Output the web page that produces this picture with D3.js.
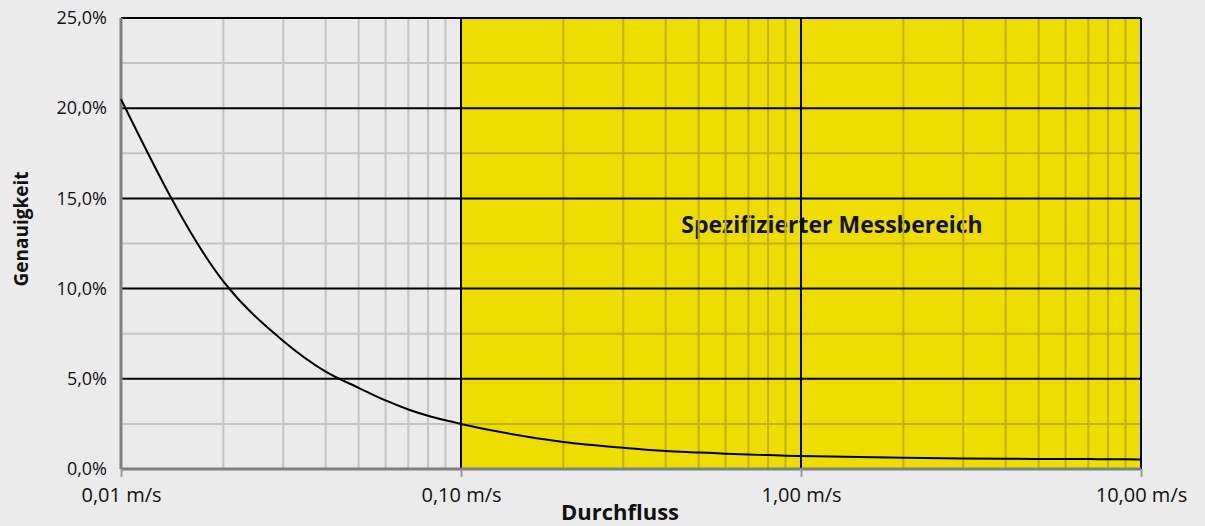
<!DOCTYPE html>
<html><head><meta charset="utf-8">
<script src="https://cdn.jsdelivr.net/npm/d3@7"></script>
<style>body{margin:0;background:#ebebeb;}svg{display:block;}</style>
</head><body>
<script>
const flowValues = [0.01,0.02,0.03,0.04,0.05,0.06,0.07,0.08,0.09,0.1,0.2,0.3,0.4,0.5,0.6,0.7,0.8,0.9,1,2,3,4,5,6,7,8,9,10];
const accuracyValues = [20.5,10.4,7.1,5.4,4.5,3.8,3.3,2.95,2.7,2.5,1.5,1.18,1.0,0.92,0.85,0.8,0.77,0.74,0.72,0.62,0.58,0.57,0.56,0.55,0.55,0.54,0.54,0.53];
const xTickValues = [0.01,0.1,1,10];
const xTickLabels = ["0,01 m/s","0,10 m/s","1,00 m/s","10,00 m/s"];
const yTickValues = [0,5,10,15,20,25];
const yTickLabels = ["0,0%","5,0%","10,0%","15,0%","20,0%","25,0%"];
const rangeStart = 0.1, rangeEnd = 10;
const rangeLabel = "Spezifizierter Messbereich";
const xTitle = "Durchfluss", yTitle = "Genauigkeit";

const W=1205,H=526;
const m={l:121,r:1141,t:18,b:469};
const x=d3.scaleLog().domain([0.01,10]).range([m.l,m.r]);
const y=d3.scaleLinear().domain([0,25]).range([m.b,m.t]);
const svg=d3.select("body").append("svg").attr("width",W).attr("height",H);
svg.append("rect").attr("width",W).attr("height",H).attr("fill","#ebebeb");
const font="'Open Sans', 'Noto Sans', sans-serif";
const grey="#c4c4c4", dy="#c2b000";

svg.append("rect").attr("x",x(rangeStart)).attr("y",m.t).attr("width",x(rangeEnd)-x(rangeStart)).attr("height",m.b-m.t).attr("fill","#eedd00");

svg.append("text").attr("x",832).attr("y",233).attr("text-anchor","middle")
  .attr("font-family",font).attr("font-weight","bold").attr("font-size",23).attr("fill","#111").text(rangeLabel);

// minor vertical
const minorX=[];
[0.01,0.1,1].forEach(d=>{for(let k=2;k<=9;k++) minorX.push(d*k);});
svg.append("g").selectAll("line").data(minorX).join("line")
  .attr("x1",d=>x(d)).attr("x2",d=>x(d)).attr("y1",m.t).attr("y2",m.b)
  .attr("stroke",d=>d<rangeStart?grey:dy).attr("stroke-width",2);
// minor horizontal
const minorY=[2.5,7.5,12.5,17.5,22.5];
const gy=svg.append("g");
minorY.forEach(v=>{
  gy.append("line").attr("x1",m.l).attr("x2",x(rangeStart)).attr("y1",y(v)).attr("y2",y(v)).attr("stroke",grey).attr("stroke-width",2);
  gy.append("line").attr("x1",x(rangeStart)).attr("x2",m.r).attr("y1",y(v)).attr("y2",y(v)).attr("stroke",dy).attr("stroke-width",2);
});
// major horizontal
svg.append("g").selectAll("line").data(yTickValues.filter(v=>v>0)).join("line")
  .attr("x1",m.l).attr("x2",m.r).attr("y1",d=>y(d)).attr("y2",d=>y(d)).attr("stroke","#000").attr("stroke-width",2);
// major vertical
svg.append("g").selectAll("line").data([0.1,1,10]).join("line")
  .attr("x1",d=>x(d)).attr("x2",d=>x(d)).attr("y1",m.t).attr("y2",m.b).attr("stroke","#000").attr("stroke-width",2);

// axes
const xAxis=svg.append("g").attr("transform",`translate(0,${m.b})`)
  .call(d3.axisBottom(x).tickValues(xTickValues).tickFormat((d,i)=>xTickLabels[i]).tickSize(8).tickPadding(0));
xAxis.select(".domain").attr("stroke","#7f7f7f").attr("stroke-width",3).attr("d",`M${m.l},0H${m.r}`);
xAxis.selectAll(".tick line").attr("stroke","#9a9a9a").attr("stroke-width",2);
xAxis.selectAll("text").attr("dy",null).attr("y",33).attr("font-family",font).attr("font-size",20).attr("fill","#111");

const yAxis=svg.append("g").attr("transform",`translate(${m.l},0)`)
  .call(d3.axisLeft(y).tickValues(yTickValues).tickFormat((d,i)=>yTickLabels[i]).tickSize(0).tickPadding(14));
yAxis.select(".domain").attr("stroke","#7f7f7f").attr("stroke-width",3).attr("d",`M0,${m.t}V${m.b}`);
yAxis.selectAll("text").attr("font-family",font).attr("font-size",18).attr("fill","#111");

// curve
const data=flowValues.map((f,i)=>({f,a:accuracyValues[i]}));
svg.append("path").datum(data).attr("fill","none").attr("stroke","#000").attr("stroke-width",2)
  .attr("d",d3.line().x(d=>x(d.f)).y(d=>y(d.a)).curve(d3.curveMonotoneX));

svg.append("text").attr("x",620).attr("y",520).attr("text-anchor","middle").attr("font-family",font)
  .attr("font-weight","bold").attr("font-size",22).attr("fill","#111").text(xTitle);
svg.append("text").attr("transform","translate(28,229) rotate(-90)").attr("text-anchor","middle").attr("font-family",font)
  .attr("font-weight","bold").attr("font-size",19).attr("fill","#111").text(yTitle);
</script>
</body></html>
